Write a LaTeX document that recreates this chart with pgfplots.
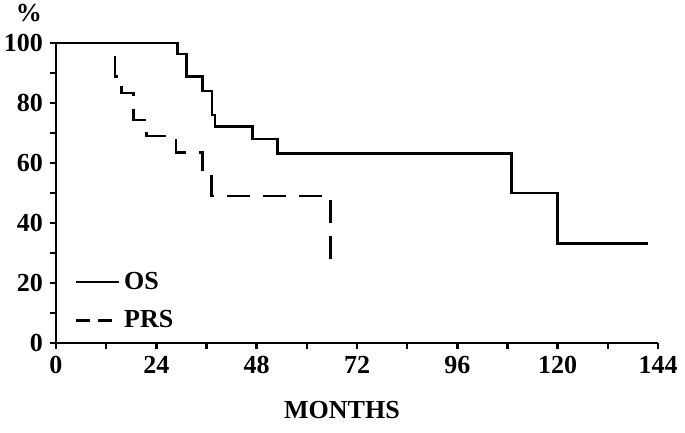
\documentclass[border=0pt]{standalone}
\usepackage{pgfplots}
\pgfplotsset{compat=1.18}
\usepackage{fontspec}
\setmainfont{Liberation Serif}
\newcommand{\lf}{\fontsize{13}{15}\selectfont\bfseries}
\begin{document}
\begin{tikzpicture}
\useasboundingbox (-28pt,-45pt) rectangle (314.5pt,171.5pt);
\begin{axis}[
  at={(0,0)}, anchor=south west,
  scale only axis, width=301pt, height=150pt,
  xmin=0, xmax=144, ymin=0, ymax=100,
  axis lines=left, axis line style={-, line width=1.3pt},
  every tick/.style={black, line width=1.2pt},
  tick align=outside, major tick length=3pt, minor tick length=3pt,
  xtick={0,24,...,144}, minor xtick={12,36,...,132},
  ytick={0,20,...,100}, minor ytick={10,30,...,90},
  /pgf/number format/assume math mode=true,
  ticklabel style={font=\lf},
  xlabel={MONTHS}, xlabel style={font=\lf, at={(axis description cs:0.475,-0.225)}, anchor=center},
  ylabel={\%}, every axis y label/.style={font=\lf, at={(axis description cs:-0.045,1.1)}, anchor=center},
  clip=false,
  legend style={draw=none, fill=none, font=\lf, at={(axis description cs:0.02,0.265)}, anchor=north west, row sep=5pt, legend cell align=left},
]
\addplot[const plot, black, line width=1.3pt,
  legend image code/.code={\draw[black, line width=1.3pt] (0pt,0pt) -- (21.5pt,0pt);}]
  coordinates {(0,100) (29,96.3) (31.2,88.9) (35.1,84) (37.3,76) (38,72.2) (47,68) (53,63.2) (109,50) (120,33.2) (141.5,33.2)};
\addlegendentry{OS}
\addplot[const plot, black, line width=1.4pt, dash pattern=on 11.5pt off 6.5pt,
  legend image code/.code={\draw[black, line width=1.4pt, dash pattern=on 7pt off 4pt] (0pt,0pt) -- (21.5pt,0pt);}]
  coordinates {(0,100) (14.1,88.9) (15.6,83.3) (18.6,74.3) (21.7,69) (28.7,63.5) (35.1,56.3) (37.2,49) (65.7,49) (65.7,24.3)};
\addlegendentry{PRS}
\end{axis}
\end{tikzpicture}
\end{document}
